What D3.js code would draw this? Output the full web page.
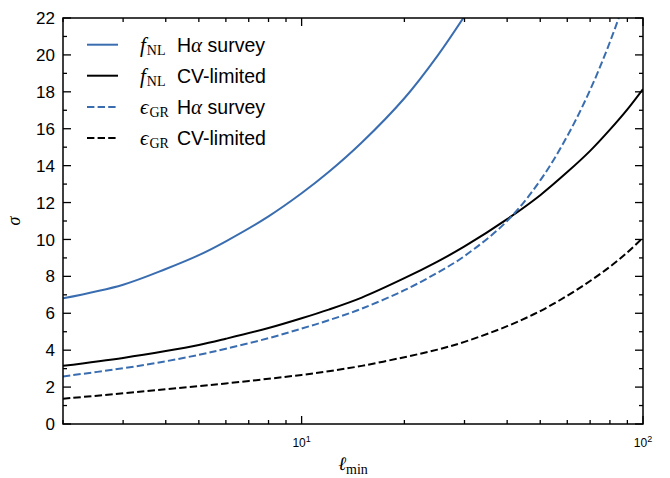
<!DOCTYPE html>
<html>
<head>
<meta charset="utf-8">
<script src="https://cdn.jsdelivr.net/npm/d3@7"></script>
<style>
  body { margin: 0; background: #fff; }
  text { font-family: "Liberation Sans", Arial, sans-serif; }
  .math { font-family: "Liberation Serif", "DejaVu Serif", serif; }
</style>
</head>
<body>
<div id="chart"></div>
<script>
// l_min values and sigma for each curve
var ells = [2, 3, 4, 5, 6, 8, 10, 12, 15, 20, 25, 30, 40, 50, 60, 70, 80, 90, 100];
var fnlSurvey = [6.81, 7.55, 8.4, 9.15, 9.9, 11.25, 12.5, 13.65, 15.25, 17.65, 19.95, 22.1, null, null, null, null, null, null, null];
var fnlCV = [3.15, 3.58, 3.95, 4.28, 4.62, 5.2, 5.73, 6.2, 6.85, 7.9, 8.8, 9.62, 11.1, 12.4, 13.65, 14.8, 15.95, 17.05, 18.15];
var egrSurvey = [2.58, 3.02, 3.4, 3.75, 4.08, 4.65, 5.17, 5.62, 6.25, 7.25, 8.2, 9.1, 11.0, 13.2, 15.6, 18.1, 20.7, 23.4, 26.3];
var egrCV = [1.37, 1.66, 1.88, 2.05, 2.2, 2.45, 2.66, 2.86, 3.15, 3.62, 4.03, 4.45, 5.3, 6.12, 6.95, 7.75, 8.52, 9.3, 10.1];

var yTicks = [0, 2, 4, 6, 8, 10, 12, 14, 16, 18, 20, 22];

var blue = "#3a6db0";
var series = [
  {sym: "f", sub: "NL", text: "H", alpha: true, rest: " survey", values: fnlSurvey, color: blue, dash: null},
  {sym: "f", sub: "NL", text: "CV-limited", alpha: false, rest: "", values: fnlCV, color: "#000", dash: null},
  {sym: "\u03f5", sub: "GR", text: "H", alpha: true, rest: " survey", values: egrSurvey, color: blue, dash: "7.4,3.2"},
  {sym: "\u03f5", sub: "GR", text: "CV-limited", alpha: false, rest: "", values: egrCV, color: "#000", dash: "7.4,3.2"}
];

var margin = {top: 18, right: 27, bottom: 54, left: 63};
var width = 670 - margin.left - margin.right;
var height = 478 - margin.top - margin.bottom;

var svg = d3.select("#chart").append("svg")
    .attr("width", 670)
    .attr("height", 478)
  .append("g")
    .attr("transform", "translate(" + margin.left + "," + margin.top + ")");

var x = d3.scaleLog().domain([2, 100]).range([0, width]);
var y = d3.scaleLinear().domain([0, 22]).range([height, 0]);

svg.append("clipPath").attr("id", "clip")
  .append("rect").attr("width", width).attr("height", height);

// curves
var line = d3.line()
    .defined(function(d) { return d[1] != null; })
    .x(function(d) { return x(d[0]); })
    .y(function(d) { return y(d[1]); })
    .curve(d3.curveCatmullRom.alpha(0.5));

series.forEach(function(s) {
  svg.append("path")
      .datum(ells.map(function(e, i) { return [e, s.values[i]]; }))
      .attr("clip-path", "url(#clip)")
      .attr("fill", "none")
      .attr("stroke", s.color)
      .attr("stroke-width", 2)
      .attr("stroke-dasharray", s.dash)
      .attr("d", line);
});

// ticks, inward on all sides
var minorX = [];
[1, 10].forEach(function(dec) {
  for (var k = 2; k <= 9; k++) if (k * dec >= 2 && k * dec < 100) minorX.push(k * dec);
});
var majorX = [10, 100];
var minorY = d3.range(1, 22, 2);

var tickG = svg.append("g").attr("stroke", "#000").attr("stroke-width", 1.3);
function tickX(v, len) {
  tickG.append("line").attr("x1", x(v)).attr("x2", x(v)).attr("y1", height).attr("y2", height - len);
  tickG.append("line").attr("x1", x(v)).attr("x2", x(v)).attr("y1", 0).attr("y2", len);
}
function tickY(v, len) {
  tickG.append("line").attr("x1", 0).attr("x2", len).attr("y1", y(v)).attr("y2", y(v));
  tickG.append("line").attr("x1", width).attr("x2", width - len).attr("y1", y(v)).attr("y2", y(v));
}
minorX.forEach(function(v) { tickX(v, 4); });
majorX.forEach(function(v) { tickX(v, 8); });
minorY.forEach(function(v) { tickY(v, 4); });
yTicks.forEach(function(v) { tickY(v, 8); });

svg.append("rect")
    .attr("width", width).attr("height", height)
    .attr("fill", "none").attr("stroke", "#000").attr("stroke-width", 1.5);

// y tick labels
svg.append("g").selectAll("text")
  .data(yTicks)
  .enter().append("text")
    .attr("x", -8)
    .attr("y", function(d) { return y(d); })
    .attr("dy", "0.36em")
    .attr("text-anchor", "end")
    .attr("font-size", "17px")
    .text(function(d) { return d; });

// x tick labels 10^1, 10^2
var xl = svg.append("g").selectAll("text")
  .data([[10, "1"], [100, "2"]])
  .enter().append("text")
    .attr("x", function(d) { return x(d[0]); })
    .attr("y", height + 22.5)
    .attr("text-anchor", "middle")
    .attr("font-size", "12px");
xl.append("tspan").text("10");
xl.append("tspan").attr("dy", -5).attr("font-size", "9px").text(function(d) { return d[1]; });

// axis titles
var xt = svg.append("text")
    .attr("class", "math")
    .attr("x", width / 2)
    .attr("y", height + 46)
    .attr("text-anchor", "middle")
    .attr("font-size", "19px");
xt.append("tspan").attr("font-style", "italic").text("\u2113");
xt.append("tspan").attr("dy", 4).attr("font-size", "14px").text("min");

svg.append("text")
    .attr("class", "math")
    .attr("transform", "translate(-43," + (height / 2) + ") rotate(-90)")
    .attr("text-anchor", "middle")
    .attr("font-size", "18px")
    .attr("font-style", "italic")
    .text("\u03c3");

// legend
var legY = [26.7, 57.7, 89, 120];
series.forEach(function(s, i) {
  var g = svg.append("g").attr("transform", "translate(0," + legY[i] + ")");
  g.append("line")
      .attr("x1", 24).attr("x2", 55)
      .attr("stroke", s.color).attr("stroke-width", 2)
      .attr("stroke-dasharray", s.dash);
  var sym = g.append("text").attr("class", "math").attr("x", 77).attr("y", 7);
  sym.append("tspan").attr("font-style", "italic").attr("font-size", "21px").text(s.sym);
  sym.append("tspan").attr("dx", 1).attr("dy", 3).attr("font-size", "14px").text(s.sub);
  var t = g.append("text").attr("x", 114).attr("y", 7).attr("font-size", "19.5px");
  t.append("tspan").text(s.text);
  if (s.alpha) {
    t.append("tspan").attr("class", "math").attr("font-style", "italic").attr("font-size", "21px").text("\u03b1");
  }
  t.append("tspan").text(s.rest);
});
</script>
</body>
</html>
